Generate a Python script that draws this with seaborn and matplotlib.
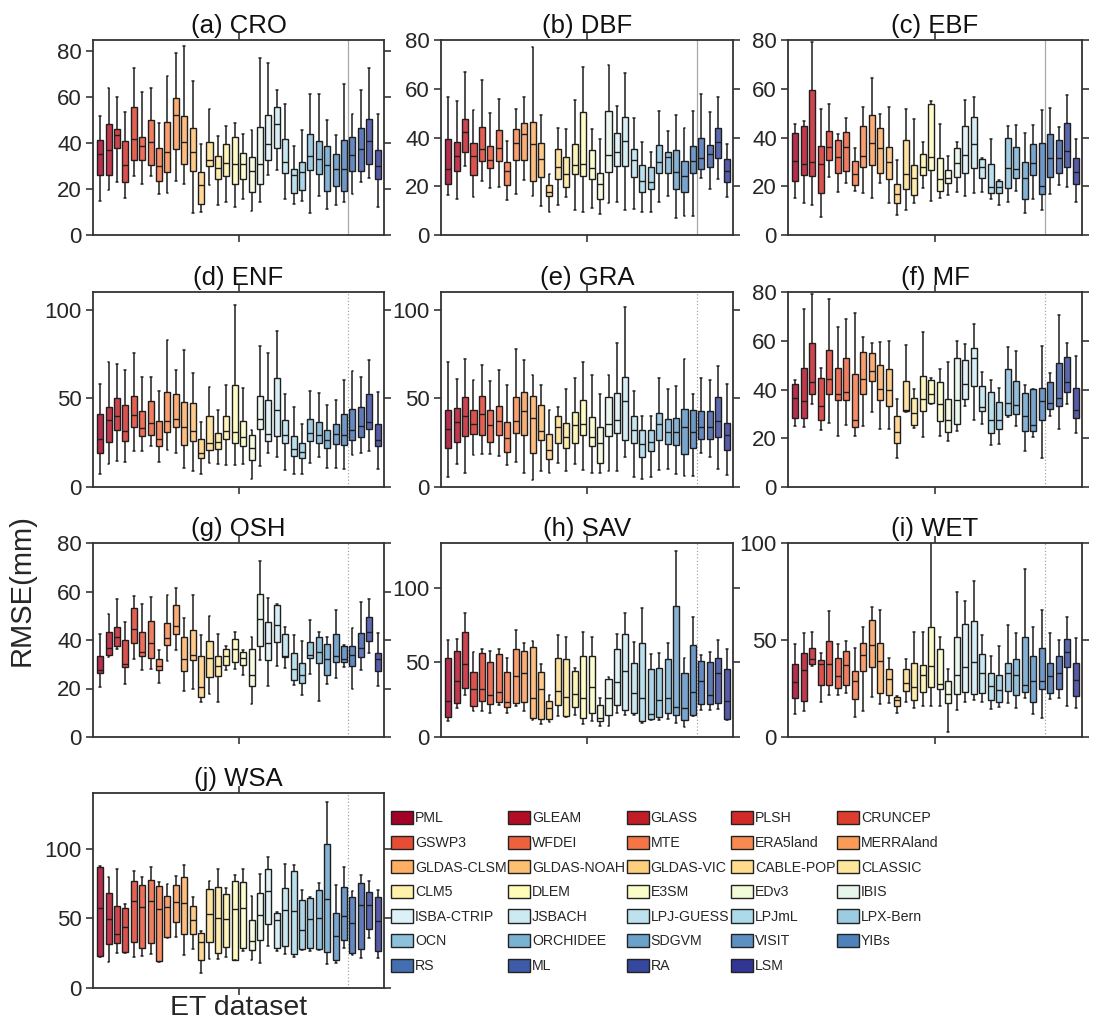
import numpy as np
import pandas as pd
import matplotlib
matplotlib.use("Agg")
import matplotlib.pyplot as plt
import seaborn as sns
from matplotlib.patches import Patch

# ---------------- data ----------------
DATASETS = ["PML", "GLEAM", "GLASS", "PLSH", "CRUNCEP", "GSWP3", "WFDEI", "MTE",
            "ERA5land", "MERRAland", "GLDAS-CLSM", "GLDAS-NOAH", "GLDAS-VIC",
            "CABLE-POP", "CLASSIC", "CLM5", "DLEM", "E3SM", "EDv3", "IBIS",
            "ISBA-CTRIP", "JSBACH", "LPJ-GUESS", "LPJmL", "LPX-Bern", "OCN",
            "ORCHIDEE", "SDGVM", "VISIT", "YIBs", "RS", "ML", "RA", "LSM"]

# five-number summaries per dataset: (whisker low, Q1, median, Q3, whisker high)
CRO = [(15, 26, 35.5, 41.2, 52), (19.8, 26.3, 37, 48.5, 64), (22.9, 38, 43.4, 46, 60),
       (16.2, 23.2, 30.7, 40.8, 53.8), (25.6, 32.9, 42, 56, 72.8), (22.4, 32.9, 38.6, 42.7, 62.5),
       (25.8, 30.7, 40.5, 50, 64), (17.7, 23.4, 30, 37.9, 48.9), (18.1, 27.5, 36, 49.2, 69.5),
       (23.6, 37.3, 52.5, 59.6, 79.3), (22.1, 31.1, 40.4, 51.8, 82.5), (9.4, 27.8, 36.3, 46.7, 67),
       (10.1, 13.3, 21.7, 27.5, 39.8), (21.7, 30.1, 32.9, 40.7, 55), (13, 24.2, 29.4, 34.5, 43),
       (14.5, 25.6, 31.4, 39.8, 47.3), (12, 22.4, 31.1, 42.7, 48.9), (15.9, 24.2, 30.8, 35.7, 44.1),
       (10.6, 18.8, 27.9, 34, 45.9), (14.2, 22.4, 30.8, 47, 77), (26, 32.9, 39.8, 52.5, 74.8),
       (28.2, 38.1, 48.2, 55.8, 63), (15.5, 27.2, 31.8, 42, 57.3), (13.5, 18.1, 26, 28.7, 38.6),
       (14.9, 19.5, 27.5, 31.8, 45.6), (9.7, 28.2, 34.3, 43.9, 61.5), (17.1, 26.5, 33.3, 41, 61.5),
       (11.3, 19.2, 30.4, 39, 50.2), (13, 21.4, 28.7, 35.2, 43.4), (14.5, 19.1, 28.9, 41.2, 65.8),
       (17.8, 27.8, 34.7, 42.7, 52.8), (22.9, 27.8, 37.6, 46.6, 63), (25, 31.1, 40.8, 50.6, 73),
       (12.3, 24.3, 30, 37.2, 52.8)]

DBF = [(16.4, 20.9, 27, 39.5, 56.5), (14.6, 26.3, 32.4, 38.3, 55), (28.3, 34.2, 42.4, 47.5, 66.8),
       (15.7, 24.6, 32.4, 37.9, 51.3), (22.2, 30.5, 35.4, 44.2, 63.6), (19.3, 27.4, 30.8, 36.7, 50.2),
       (19.8, 30.4, 35.6, 43.1, 55.7), (14.4, 20.5, 26.4, 29.8, 38.6), (16.8, 30.8, 37.6, 43.4, 51.7),
       (22.6, 30.8, 41.3, 45.8, 56.5), (16.1, 22.3, 37.2, 46.2, 77), (12, 23.7, 31, 37.9, 49.2),
       (9.6, 16.1, 17.8, 20.5, 25), (12.3, 23, 28, 35.3, 43.8), (15.7, 19.8, 25, 31.9, 43.4),
       (10.3, 25, 28.7, 37.3, 55.4), (9.6, 24.4, 29, 50.6, 68.8), (10.9, 22.8, 27.6, 35, 43.5),
       (8.6, 14.8, 20.8, 25.3, 39.3), (13, 26, 32.8, 51, 69.8), (13.7, 28.5, 33.9, 41.7, 52.9),
       (10.3, 28.5, 38.6, 48.3, 66.3), (10.8, 23.7, 30.8, 35.2, 48), (9.3, 17.8, 22.3, 28.7, 38.3),
       (9.3, 18.7, 21.6, 28, 34.2), (13.4, 25.3, 29.8, 36.9, 50.9), (16.1, 25.6, 31.8, 34, 42.8),
       (6.8, 18.7, 26, 34.9, 49.2), (7.9, 17.5, 24.4, 30.5, 43.8), (7.9, 25.3, 30.5, 36.7, 50.9),
       (23.3, 27.1, 31.5, 39.7, 57.7), (18.9, 28, 33.2, 36.9, 50.6), (23, 31.7, 38.3, 43.8, 56.8),
       (15.7, 21.9, 26.4, 31.2, 37.3)]

EBF = [(15, 22.2, 30.4, 42, 45.4), (13, 24.6, 29, 44.7, 46.8), (12.3, 24.2, 30.1, 59.5, 79),
       (7.5, 17.1, 29, 36.5, 51.6), (23.9, 30.8, 36.3, 42.8, 53.8), (17.8, 25.3, 32.1, 39, 41.3),
       (21.2, 26.4, 36.3, 42.1, 47.9), (18.2, 20.5, 25, 30.4, 35.6), (17.1, 28, 32.6, 44.9, 52.7),
       (15, 28.7, 37.6, 49.2, 64.3), (21.2, 25.3, 35.6, 43.8, 49.7), (13.3, 22.8, 29.8, 36, 52.7),
       (8.2, 13.3, 16.8, 20.8, 30.8), (10.3, 18.7, 25, 39, 51.6), (13.3, 16.4, 23.3, 28.7, 47.5),
       (19.2, 24.6, 28, 33.2, 38.3), (14.1, 26.7, 31.9, 53.8, 55.1), (15, 18.1, 22.8, 31.7, 45.6),
       (16.5, 21.5, 23.5, 26.7, 32.5), (17.5, 23.9, 29.4, 35.8, 38.3), (16.1, 25.3, 32.8, 44.7, 55.4),
       (17.1, 27.6, 37.3, 48.6, 56.8), (17.5, 23.5, 28, 31.2, 31.5), (14.6, 17.1, 19.8, 29.1, 39.3),
       (12.3, 17.1, 19.8, 22.3, 22.6), (13.7, 19.4, 27.6, 40, 44.7), (18.1, 23.3, 27.1, 36.3, 45.1),
       (8.9, 14.6, 23.3, 29.8, 42), (14.6, 24.6, 29.7, 37.3, 45.1), (10.3, 16.7, 20.2, 37.9, 51.3),
       (16.8, 23.9, 31.5, 41.4, 52), (20.5, 25.3, 31.7, 39, 44.5), (19.6, 27.8, 34.5, 45.8, 57.5),
       (13.7, 20.8, 25.7, 31.5, 39.3)]

ENF = [(7.1, 19.1, 26.8, 40.9, 58.2), (12.8, 25.3, 37.9, 45.4, 70.7), (14.4, 32.3, 39.8, 50.3, 69.4),
       (14.1, 25.7, 31.5, 46, 66.2), (20.3, 34, 40.7, 51.2, 75.4), (20.1, 28.5, 33.5, 43, 61.9),
       (22.9, 29.1, 36, 48.4, 61.9), (14.1, 23.1, 27, 37.1, 54.4), (20.6, 31.3, 37.5, 53.8, 83.1),
       (19.1, 33.8, 38.5, 52.5, 66), (10.9, 23.8, 33.9, 47.8, 77.5), (9, 25.9, 31.5, 47.5, 64.4),
       (7.5, 16.3, 19.3, 27.2, 36.6), (13.5, 20.6, 24.8, 40.3, 56.3), (13.1, 21.6, 25.5, 30.4, 43.2),
       (12.6, 27.2, 31.5, 40.3, 57.8), (12.6, 24.8, 31.3, 57.8, 102.6), (13.1, 23.1, 28.1, 37, 55.9),
       (4.3, 15.4, 22, 29.5, 32.3), (11.8, 32.8, 38.1, 51.6, 79.4), (19.1, 25.9, 30, 48.8, 75.6),
       (16.9, 28.5, 43.2, 61.5, 88.2), (9.4, 25, 29.6, 37.9, 52.2), (7.5, 17.3, 21.6, 28.7, 45),
       (7.5, 16.5, 19.7, 24.8, 35.6), (13.5, 25.7, 30.4, 38.5, 54.4), (16.9, 25, 29.6, 36.6, 52.9),
       (10.9, 22, 26.6, 31.9, 46), (10.9, 24.4, 30, 35.3, 49.3), (10.3, 23.8, 29.1, 41.3, 60.4),
       (17.8, 26.3, 32.3, 44.1, 65.3), (19.3, 28.1, 34.3, 45, 61.9), (20.1, 32.5, 36.6, 52.2, 71.7),
       (10.3, 23.1, 26.3, 35.3, 53.5)]

GRA = [(5.6, 22.1, 32.5, 43.2, 70.7), (12.8, 25.3, 36.6, 44.5, 61), (8.1, 28.5, 40.3, 50.7, 72.2),
       (17.8, 30, 35.3, 43.2, 60.4), (18.8, 29.1, 41.3, 51.2, 68.9), (18.8, 25.3, 34.7, 43.2, 60),
       (17.4, 29.6, 37.1, 45.6, 66.2), (12.2, 19.7, 27.6, 36.6, 57.8), (14.1, 30.6, 37, 51, 77.9),
       (8.1, 29.5, 42.8, 53.8, 71.7), (4.1, 19.1, 39, 51.6, 62.9), (9, 26.3, 31.5, 46.5, 57.6),
       (8.1, 15.6, 20.6, 30, 43.7), (13.5, 25, 34.1, 39.8, 45.4), (9, 22.1, 28.1, 36, 55.3),
       (13.1, 25, 34.7, 42.2, 61.5), (9.4, 29.5, 35.6, 48.8, 70.4), (7.9, 22.9, 28.1, 39.4, 63.4),
       (7.9, 13.7, 25, 33.8, 52.2), (9, 28.5, 35.3, 50.7, 62.9), (9, 30.6, 37.9, 52.9, 81.2),
       (16.9, 26.6, 48.4, 61.9, 101.7), (5.6, 25, 32.3, 39.8, 54), (4.7, 16.9, 24.4, 31.9, 40.3),
       (5.6, 20.3, 25.3, 31.9, 40.3), (9.4, 26.3, 35.6, 41.7, 61.3), (10.3, 24.4, 31.3, 38.1, 55.3),
       (7.1, 23.5, 31, 39, 56.7), (6, 18.4, 33.8, 44.1, 72.2), (6, 22.1, 31, 43.2, 52.2),
       (19.1, 27.2, 33.8, 42.6, 61.5), (16.9, 27.2, 34.1, 42.6, 60.4), (10.3, 28.1, 37, 50.7, 68.5),
       (6.9, 21, 29.6, 36.2, 58.2)]

MF = [(25.2, 28.2, 36.6, 42.4, 43.8), (24.5, 28.2, 35.3, 49, 73.1), (33.9, 38.3, 43.1, 59.2, 79.2),
      (23.4, 27.5, 33.2, 44.9, 49), (26.2, 38.3, 44.2, 56.2, 77.3), (21.1, 35.8, 38.3, 49, 65.8),
      (25.5, 35.5, 39, 52.8, 68.9), (21.1, 24.5, 27.5, 46.3, 71.3), (24.9, 38.3, 44.5, 55.2, 61.7),
      (30.7, 43.5, 47.7, 55.1, 59), (23.8, 35.8, 40.1, 50, 59.5), (23.8, 33.2, 39.9, 48.6, 59.8),
      (11.8, 18, 22.7, 29.3, 36.2), (30.7, 31, 31.5, 43.4, 58.3), (24.2, 25.6, 30.4, 36.6, 40.1),
      (20.4, 31.1, 36.2, 45.6, 63.5), (33.9, 34.4, 38, 44.1, 44.9), (20.8, 27, 33.9, 43.1, 48.3),
      (19, 22.5, 27.5, 36.2, 51.4), (22.9, 25.9, 35.5, 52.8, 60), (33.1, 36, 42.1, 52.3, 58.5),
      (27.5, 41.3, 52.8, 57.2, 66.8), (25.9, 31, 32.8, 41.3, 47), (17.4, 22.2, 27.5, 39, 43.8),
      (17.6, 23.6, 27.5, 34.8, 40.8), (28.7, 29.6, 34.6, 48.6, 57.6), (25.2, 30, 33.7, 43.5, 55.9),
      (14.6, 22.9, 29.3, 38.7, 41.7), (20.7, 22.9, 25.6, 40.1, 40.4), (11.7, 27.3, 35.3, 40.8, 57.9),
      (29.3, 31.8, 34.6, 43.1, 46.8), (23.8, 33.2, 36.6, 51, 70.4), (34.2, 39, 43.1, 53.4, 59.2),
      (22, 28.4, 31.7, 40.6, 53.7)]

OSH = [(20.6, 26.4, 27.7, 33.5, 42.4), (33, 33.7, 36.7, 43.1, 50.7), (36.4, 37.4, 41.2, 45.3, 56.9),
       (21.8, 28.7, 30.1, 40.1, 47.3), (32, 38.6, 44.4, 53, 58.2), (27.7, 33.5, 35, 43.1, 54.9),
       (28, 32.6, 38.7, 47.9, 57.6), (22.3, 27.7, 29.4, 32.1, 36), (31.2, 38, 40.8, 47, 58.7),
       (36, 42.6, 45.6, 54.3, 61.4), (18.8, 27.1, 32.3, 41.1, 49), (19.8, 31.6, 33.9, 44.2, 58.4),
       (14.4, 16.5, 20.6, 33.5, 42), (17.7, 24.7, 32.6, 39.4, 50), (14.4, 25, 29.4, 33.2, 42.4),
       (27.5, 29.8, 33.5, 36.3, 37.6), (28.2, 30.9, 36.4, 40.4, 43.5), (25.5, 29.8, 32.5, 35, 36),
       (13.6, 20.9, 25.4, 36.3, 41.2), (31.9, 37.6, 48.6, 59.1, 72.4), (21.2, 31.6, 38.7, 47.4, 57.3),
       (29.4, 39.1, 46.3, 54.5, 54.8), (28.5, 32.8, 33.2, 42.6, 45.3), (21.6, 23.4, 28, 34.6, 42),
       (17.2, 22.3, 25.4, 30.5, 39.7), (26, 32.5, 33.8, 39.1, 48.1), (14.7, 30.5, 34.9, 41.2, 43.5),
       (22, 25.7, 32.1, 38.3, 41.2), (24.3, 30.9, 33.2, 42.6, 52.5), (28.8, 30.9, 32.1, 37.4, 37.8),
       (19.9, 29.1, 33.7, 37.6, 45), (27.5, 32.8, 36.7, 42.9, 55.5), (34.6, 39.7, 43.5, 49.5, 57),
       (20.9, 27.1, 32.3, 34.6, 43)]

SAV = [(10.9, 13.3, 23.8, 52.7, 65.3), (19.3, 22.7, 37.6, 57.8, 66), (28.2, 32.7, 48.7, 70.4, 83.1),
       (17.1, 20.9, 32.2, 43.8, 56.7), (17.1, 24.4, 32.2, 56, 59.3), (16.4, 22.2, 28.2, 50, 57.6),
       (21.6, 23.3, 30, 55.6, 58.7), (16, 20, 23.3, 43.8, 52.7), (20.9, 22.7, 41.1, 58.9, 71.6),
       (17.6, 23.3, 42.7, 57.8, 63.3), (11.6, 12.7, 26, 60, 64.2), (8.9, 12, 32.2, 43.3, 48.9),
       (9.8, 12, 19.3, 24.2, 28.2), (13.8, 21.6, 30.9, 52.7, 68.2), (13.1, 14.2, 26.7, 52.2, 67.1),
       (14.9, 20.4, 28.7, 44.2, 46.4), (8.9, 12.7, 26, 54.4, 70.4), (10.4, 16.4, 33.3, 54.4, 67.1),
       (7.1, 10.4, 12.7, 21.6, 26), (7.6, 14.9, 26.4, 38.7, 40.4), (16.4, 21.6, 37.1, 58.7, 69.3),
       (14.9, 18.2, 44.2, 69.3, 83.1), (14.9, 16, 29.8, 49.3, 63.8), (9.3, 10.4, 26, 63.3, 86.7),
       (11.1, 12, 15.6, 45.3, 55.6), (11.6, 13.3, 24.9, 46.4, 56), (12, 16.4, 26, 52, 63.3),
       (9.3, 14.9, 20, 87.6, 124.4), (6.4, 11.6, 19.3, 42.7, 52.7), (14.2, 14.9, 30.4, 61.6, 80.4),
       (18.2, 22.2, 37.6, 51.1, 54.9), (18.2, 22.2, 28.2, 50.4, 56.7), (18.7, 22.7, 42.7, 52.7, 65.3),
       (11.6, 11.8, 23.8, 45.6, 58.9)]

WET = [(12.1, 20.2, 28.1, 37.6, 47.8), (13.4, 18.4, 34.5, 43.4, 53.8), (36.7, 37.6, 40.2, 45.7, 54.3),
       (17.8, 26.7, 37.5, 39.7, 43.1), (21.6, 26.7, 37.4, 49.5, 65.2), (21.6, 25.5, 31.6, 40.9, 47.9),
       (22.8, 26.7, 37.1, 44.3, 49.7), (10.3, 19.8, 28.8, 34, 46), (13.3, 34.1, 42.2, 48.6, 56.6),
       (20.7, 35.9, 47.4, 60.3, 67.2), (16.9, 22.9, 39.3, 48.6, 65.5), (17.6, 21.6, 29.8, 34.8, 40.9),
       (12.4, 15.9, 19, 20.7, 21.2), (17.8, 23.6, 27.6, 35.3, 40.2), (15, 19, 25.9, 38.4, 54.3),
       (16, 23.3, 31.9, 37.1, 54.3), (16, 25.9, 36.6, 56.9, 100), (16, 24.5, 27.2, 45.3, 51.7),
       (2.6, 17.6, 22.4, 28.8, 35.3), (14.1, 22.1, 31.9, 51.4, 74.7), (17.8, 23.3, 36.2, 58.1, 70.2),
       (19, 22.4, 38.8, 60, 80.5), (18.1, 22.9, 32.8, 42.8, 52.6), (14.3, 19, 26.2, 33.1, 41.7),
       (15.5, 18.1, 24.1, 32.2, 46.9), (17.6, 23.6, 32.8, 37.9, 57.8), (14.7, 21.9, 31.9, 40, 53.8),
       (20.3, 23.3, 26.7, 51.4, 86.7), (11.7, 17.8, 29, 41.7, 56.9), (10, 24.7, 28.8, 46, 65.5),
       (19.5, 22.8, 31.4, 38.4, 53.8), (20.2, 25, 32.8, 41.7, 50), (15.9, 36.2, 44, 50.5, 61.6),
       (15, 21.2, 29.3, 38.4, 51.2)]

WSA = [(22.4, 22.9, 57.1, 86.7, 87.5), (18.8, 31.3, 49.4, 68.2, 79.5), (25.3, 32.5, 38.6, 59, 85.1),
       (25.3, 26, 43.9, 57.1, 60.2), (22.2, 33, 62.2, 77.1, 84.3), (22.9, 28.4, 57.8, 74.2, 79.5),
       (24.1, 32.5, 62.7, 77.8, 86.7), (18.8, 19.3, 56.6, 73.5, 75.9), (36.1, 36.6, 58.3, 66.3, 74.7),
       (36.9, 47.7, 61.9, 74, 80.7), (23.6, 39, 61, 79.5, 88), (27.7, 39, 48.9, 58.6, 65.1),
       (10.8, 20, 33.3, 39.3, 41), (20.5, 33, 53, 71.1, 76.6), (21, 25.3, 49.9, 72.8, 85.5),
       (22.2, 29.6, 49.4, 67.5, 71.6), (19.8, 20, 56.6, 77.1, 81.2), (26.5, 28.4, 57.3, 76.4, 85.1),
       (20, 27.2, 33.7, 48.7, 66.3), (18.1, 34.2, 52.5, 68.2, 81.9), (30.1, 45.8, 69.9, 85.1, 94),
       (26.5, 28.9, 48.9, 54, 54.5), (24.1, 30.1, 56.1, 71.8, 88.7), (22.2, 24.6, 55.4, 84.3, 88),
       (27, 27.7, 41.4, 63.1, 70.4), (26.5, 28.4, 49.4, 64.3, 65.1), (27.2, 28.2, 50.6, 70.6, 75.2),
       (17.3, 25.8, 63.9, 103.6, 133.7), (17.6, 20, 37.3, 53.5, 74.2), (28.4, 34.2, 51.8, 72.3, 87.2),
       (23.6, 25.3, 46.5, 65.5, 69.9), (21.7, 28.2, 59.5, 75.4, 81.2), (36.1, 42.7, 59.5, 69.2, 77.1),
       (21.7, 26.5, 48.2, 65.1, 70.4)]

PANEL_TITLES = ["(a) CRO", "(b) DBF", "(c) EBF", "(d) ENF", "(e) GRA",
                "(f) MF", "(g) OSH", "(h) SAV", "(i) WET", "(j) WSA"]
PANEL_DATA = [CRO, DBF, EBF, ENF, GRA, MF, OSH, SAV, WET, WSA]
Y_MAX = [85, 80, 80, 110, 110, 80, 80, 130, 100, 140]
Y_TICKS = [[0, 20, 40, 60, 80], [0, 20, 40, 60, 80], [0, 20, 40, 60, 80],
           [0, 50, 100], [0, 50, 100], [0, 20, 40, 60, 80], [0, 20, 40, 60, 80],
           [0, 50, 100], [0, 50, 100], [0, 50, 100]]

# ---------------- style ----------------
sns.set_style("ticks")
plt.rcParams["font.family"] = ["Liberation Sans", "DejaVu Sans"]

W, H = 1116, 1034
fig = plt.figure(figsize=(W / 100, H / 100), dpi=100)

cmap = plt.get_cmap("RdYlBu")
legend_colors = [cmap(v) for v in np.linspace(0, 1, len(DATASETS))]
box_colors = [tuple(0.82 * np.array(c[:3]) + 0.18) for c in legend_colors]

cols = [(93, 384), (441, 733), (788, 1082)]
rows = [(40, 235), (292, 487), (543, 737), (793, 988)]
positions = [(cols[c], rows[r]) for r in range(4) for c in range(3)][:10]

DARK = "#262626"
for k, (title, stats) in enumerate(zip(PANEL_TITLES, PANEL_DATA)):
    (x0, x1), (y0, y1) = positions[k]
    ax = fig.add_axes([x0 / W, 1 - y1 / H, (x1 - x0) / W, (y1 - y0) / H])
    recs = [(name, v) for name, s in zip(DATASETS, stats) for v in s]
    df = pd.DataFrame(recs, columns=["dataset", "rmse"])
    sns.boxplot(data=df, x="dataset", y="rmse", hue="dataset", order=DATASETS,
                hue_order=DATASETS, palette=box_colors, whis=(0, 100), width=0.72,
                showfliers=False, saturation=1, linecolor="#1e1e1e", linewidth=1.0,
                legend=False, ax=ax, capwidths=0.22,
                whiskerprops=dict(color="#1e1e1e", linewidth=1.1),
                capprops=dict(color="#1e1e1e", linewidth=1.1))
    ax.axvline(29.45, color="#a8a8a8", linewidth=0.9,
               linestyle="-" if k < 3 else ":", zorder=0.5)
    ax.set_xlim(-0.85, 33.75)
    ax.set_ylim(0, Y_MAX[k])
    ax.set_yticks(Y_TICKS[k])
    ax.set_xticks([16.5])
    ax.set_xticklabels([])
    ax.set_xlabel("")
    ax.set_ylabel("")
    ax.tick_params(axis="both", direction="out", length=5, width=1.1, color=DARK,
                   labelsize=16, labelcolor=DARK, top=True, right=True, pad=3)
    for sp in ax.spines.values():
        sp.set_visible(True)
        sp.set_linewidth(1.3)
        sp.set_color("#333333")
    ax.set_title(title, fontsize=18.5, pad=5, color="#111111")

fig.text(22 / W, 1 - 590 / H, "RMSE(mm)", rotation=90, ha="center", va="center",
         fontsize=21, color=DARK)
fig.text(239 / W, 1 - 1008 / H, "ET dataset", ha="center", va="center",
         fontsize=20.5, color=DARK)

# legend, filled row by row like the reference (5 columns)
handles = [Patch(facecolor=c, edgecolor="#222222", linewidth=1.0) for c in legend_colors]
order = [r * 5 + c for c in range(5) for r in range(7) if r * 5 + c < len(DATASETS)]
fig.legend([handles[i] for i in order], [DATASETS[i] for i in order],
           loc="upper left", bbox_to_anchor=(391 / W, 1 - 811 / H), ncol=5,
           frameon=False, prop=dict(family=["Liberation Sans"], size=10.2),
           handlelength=1.55, handleheight=1.05, handletextpad=0.15,
           columnspacing=0.1, labelspacing=0.72, borderaxespad=0, borderpad=0)

fig.savefig("out.png", dpi=100)
